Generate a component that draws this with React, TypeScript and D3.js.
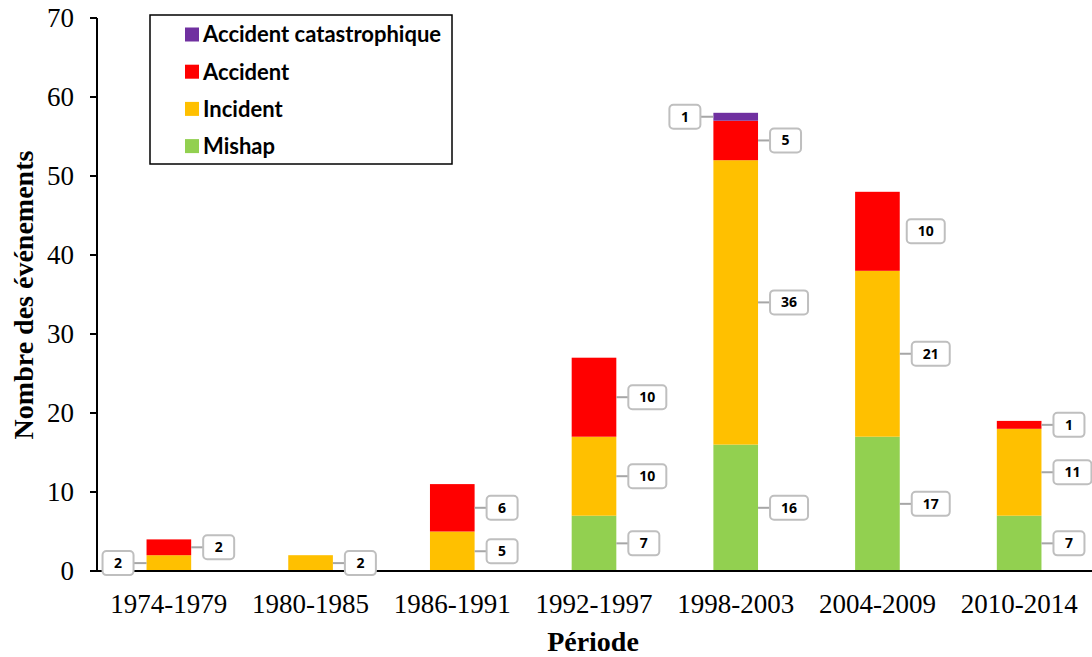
import React from "react";
import * as d3 from "d3";

const categories = ["1974-1979", "1980-1985", "1986-1991", "1992-1997", "1998-2003", "2004-2009", "2010-2014"];
const mishap = [0, 0, 0, 7, 16, 17, 7];
const incident = [2, 2, 5, 10, 36, 21, 11];
const accident = [2, 0, 6, 10, 5, 10, 1];
const catastrophique = [0, 0, 0, 0, 1, 0, 0];
const yTicks = [0, 10, 20, 30, 40, 50, 60, 70];

const seriesNames = ["Mishap", "Incident", "Accident", "Accident catastrophique"];
const seriesColors = ["#92D050", "#FFC000", "#FF0000", "#7030A0"];
const legendOrder = ["Accident catastrophique", "Accident", "Incident", "Mishap"];

// labels placed on the left side of the bar / without a leader line
const leftLabels = [["1974-1979", "Incident"], ["1998-2003", "Accident catastrophique"]];
const plainLabels = [["2004-2009", "Accident"]];

const W = 1092;
const H = 657;
const SERIF = "'Times New Roman', 'Liberation Serif', serif";
const SANS = "Lato, 'Open Sans', sans-serif";

export default function App() {
  const rows = categories.map((c, i) => ({
    cat: c,
    Mishap: mishap[i],
    Incident: incident[i],
    Accident: accident[i],
    "Accident catastrophique": catastrophique[i],
  }));
  const stacked = d3.stack<any>().keys(seriesNames)(rows);

  const x = d3.scaleBand().domain(categories).range([98, 1090]).paddingInner(0.685).paddingOuter(0.3425);
  const y = d3.scaleLinear().domain([0, 70]).range([571, 18]);
  const color = d3.scaleOrdinal<string, string>().domain(seriesNames).range(seriesColors);

  const bw = x.bandwidth();

  const labels: any[] = [];
  stacked.forEach((s) => {
    s.forEach((d: any, i: number) => {
      const v = d[1] - d[0];
      if (v <= 0) return;
      const cat = categories[i];
      const left = leftLabels.some(([c, k]) => c === cat && k === s.key);
      const plain = plainLabels.some(([c, k]) => c === cat && k === s.key);
      const txt = String(v);
      const boxW = txt.length === 1 ? 31 : 38;
      const boxH = 24;
      const cy = y((d[0] + d[1]) / 2);
      const bx0 = x(cat)!;
      const bx1 = bx0 + bw;
      let boxX: number;
      let lx0: number, lx1: number;
      if (left) {
        boxX = bx0 - 13 - boxW;
        lx0 = boxX + boxW;
        lx1 = bx0;
      } else {
        boxX = bx1 + (plain ? 7 : 12);
        lx0 = bx1;
        lx1 = boxX;
      }
      labels.push({ key: s.key + cat, txt, boxX, boxW, boxH, cy, lx0, lx1, plain });
    });
  });

  return (
    <svg width={W} height={H} style={{ position: "absolute", left: 0, top: 0, background: "#fff" }}>
      <rect x={0} y={0} width={W} height={H} fill="#fff" />
      {/* bars */}
      {stacked.map((s) => (
        <g key={s.key} fill={color(s.key)}>
          {s.map((d: any, i: number) =>
            d[1] - d[0] > 0 ? (
              <rect key={i} x={x(categories[i])} y={y(d[1])} width={bw} height={y(d[0]) - y(d[1])} />
            ) : null
          )}
        </g>
      ))}
      {/* axes */}
      <line x1={97} x2={97} y1={18} y2={571} stroke="#000" strokeWidth={2} />
      <line x1={90} x2={1092} y1={571} y2={571} stroke="#000" strokeWidth={2} />
      {yTicks.map((t) => (
        <g key={t}>
          <line x1={90} x2={97} y1={y(t)} y2={y(t)} stroke="#000" strokeWidth={2} />
          <text x={74} y={y(t)} dy="0.34em" textAnchor="end" fontFamily={SERIF} fontSize={27} fill="#000">
            {t}
          </text>
        </g>
      ))}
      {categories.map((c) => (
        <text key={c} x={x(c)! + bw / 2} y={613} textAnchor="middle" fontFamily={SERIF} fontSize={27} fill="#000">
          {c}
        </text>
      ))}
      <text x={593} y={651} textAnchor="middle" fontFamily={SERIF} fontSize={28} fontWeight="bold" fill="#000">
        Période
      </text>
      <text
        transform={`translate(33,295) rotate(-90)`}
        textAnchor="middle"
        fontFamily={SERIF}
        fontSize={28}
        fontWeight="bold"
        fill="#000"
      >
        Nombre des événements
      </text>
      {/* data labels */}
      {labels.map((l) => (
        <g key={l.key}>
          {!l.plain && <line x1={l.lx0} x2={l.lx1} y1={l.cy} y2={l.cy} stroke="#A6A6A6" strokeWidth={2} />}
          <rect
            x={l.boxX}
            y={l.cy - l.boxH / 2}
            width={l.boxW}
            height={l.boxH}
            rx={4}
            fill="#fff"
            stroke="#BFBFBF"
            strokeWidth={2}
          />
          <text
            x={l.boxX + l.boxW / 2}
            y={l.cy}
            dy="0.36em"
            textAnchor="middle"
            fontFamily="'Open Sans', sans-serif"
            fontWeight="bold"
            fontSize={14}
            fill="#000"
          >
            {l.txt}
          </text>
        </g>
      ))}
      {/* legend */}
      <rect x={150} y={15} width={302} height={149} fill="#fff" stroke="#000" strokeWidth={1.5} />
      {legendOrder.map((k, i) => (
        <g key={k} transform={`translate(185, ${34.5 + i * 37.2})`}>
          <rect x={0} y={-7} width={14} height={14} fill={color(k)} />
          <text x={18} y={0} dy="0.36em" fontFamily={SANS} fontWeight="bold" fontSize={22} fill="#000">
            {k}
          </text>
        </g>
      ))}
    </svg>
  );
}
